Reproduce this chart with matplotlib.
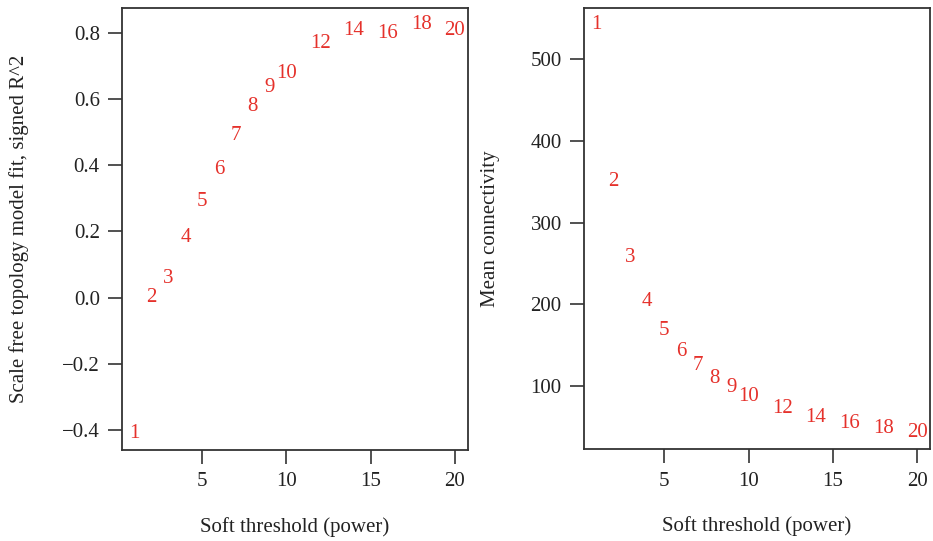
import numpy as np
import matplotlib
matplotlib.use("Agg")
import matplotlib.pyplot as plt

#
# Soft threshold powers and values
#
powers = [1, 2, 3, 4, 5, 6, 7, 8, 9, 10, 12, 14, 16, 18, 20]
signed_r2 = [-0.412, 0.0, 0.058, 0.183, 0.292, 0.388, 0.492, 0.579, 0.636, 0.678,
             0.770, 0.807, 0.800, 0.827, 0.807]
mean_conn = [542, 350, 257, 203, 168, 142, 125, 109, 98, 87,
             73, 62, 54, 49, 43]

xlab = "Soft threshold (power)"
ylab_left = "Scale free topology model fit, signed R^2"
ylab_right = "Mean connectivity"
left_yticks = [-0.4, -0.2, 0.0, 0.2, 0.4, 0.6, 0.8]
right_yticks = [100, 200, 300, 400, 500]
xticks = [5, 10, 15, 20]

plt.rcParams['font.family'] = ['Liberation Serif', 'DejaVu Serif']
fs = 15
red = '#e5312b'
frame = '#333333'
ink = '#222222'

fig = plt.figure(figsize=(9.33, 5.41), dpi=100)
ax1 = fig.add_axes([0.1308, 0.1682, 0.3705, 0.817])
ax2 = fig.add_axes([0.6259, 0.1695, 0.3709, 0.8157])


def r_range(vals):
    # R style 4% axis expansion
    lo, hi = min(vals), max(vals)
    d = (hi - lo) * 0.04
    return lo - d, hi + d


def style(ax, yvals, yticks, fmt):
    ax.set_xlim(*r_range(powers))
    ax.set_ylim(*r_range(yvals))
    ax.set_xticks(xticks)
    ax.set_xticklabels([str(t) for t in xticks])
    ax.set_yticks(yticks)
    ax.set_yticklabels([fmt(t) for t in yticks])
    for s in ax.spines.values():
        s.set_color(frame)
        s.set_linewidth(1.3)
    ax.tick_params(direction='out', length=10, width=1.2, color=frame,
                   labelcolor=ink, labelsize=fs, pad=6)


#
# Left: scale-free fit
#
for p, v in zip(powers, signed_r2):
    ax1.text(p, v, str(p), color=red, ha='center', va='center', fontsize=fs)
style(ax1, signed_r2, left_yticks,
      lambda t: ("%.1f" % t).replace('-', '\u2212'))
ax1.set_xlabel(xlab, fontsize=fs, color=ink)
ax1.set_ylabel(ylab_left, fontsize=fs, color=ink)
ax1.xaxis.set_label_coords(0.5, -0.151)
ax1.yaxis.set_label_coords(-0.269, 0.5)

#
# Right: mean connectivity
#
for p, v in zip(powers, mean_conn):
    ax2.text(p, v, str(p), color=red, ha='center', va='center', fontsize=fs)
style(ax2, mean_conn, right_yticks, lambda t: str(t))
ax2.set_xlabel(xlab, fontsize=fs, color=ink)
ax2.set_ylabel(ylab_right, fontsize=fs, color=ink)
ax2.xaxis.set_label_coords(0.5, -0.151)
ax2.yaxis.set_label_coords(-0.243, 0.5)

fig.savefig("out.png", dpi=100)
